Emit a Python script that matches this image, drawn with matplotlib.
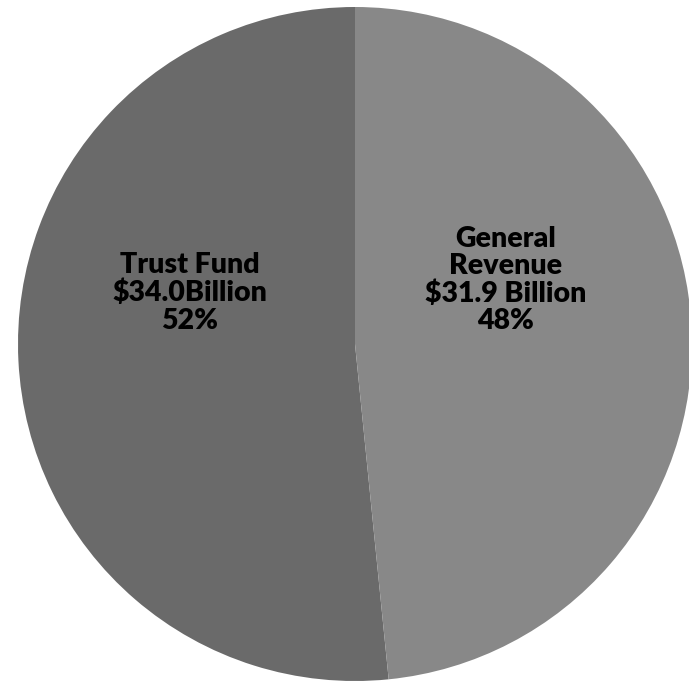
import matplotlib.pyplot as plt

# funding sources (billions of dollars)
labels = ["Trust Fund", "General\nRevenue"]
amounts = [34.0, 31.9]
amount_text = ["$34.0Billion", "$31.9 Billion"]
pct_text = ["52%", "48%"]

COLORS = ["#6a6a6a", "#888888"]

fig = plt.figure(figsize=(6.89, 6.82), dpi=100, facecolor="white")
ax = fig.add_axes([0, 0, 1, 1])

# axes units match output pixels (y upwards)
wedges, _ = ax.pie(
    amounts,
    colors=COLORS,
    startangle=90,
    counterclock=True,
    center=(355, 338),
    radius=337,
    wedgeprops={"linewidth": 0},
)
ax.set_xlim(0, 689)
ax.set_ylim(0, 682)
ax.axis("off")

text_pos = [(190, 389), (506, 402)]
for lab, amt, pct, (tx, ty) in zip(labels, amount_text, pct_text, text_pos):
    ax.text(tx, ty, f"{lab}\n{amt}\n{pct}", ha="center", va="center",
            fontsize=20.5, fontweight="heavy", family="Lato",
            color="black", linespacing=1.06)

fig.savefig("out.png", dpi=100, facecolor="white")
